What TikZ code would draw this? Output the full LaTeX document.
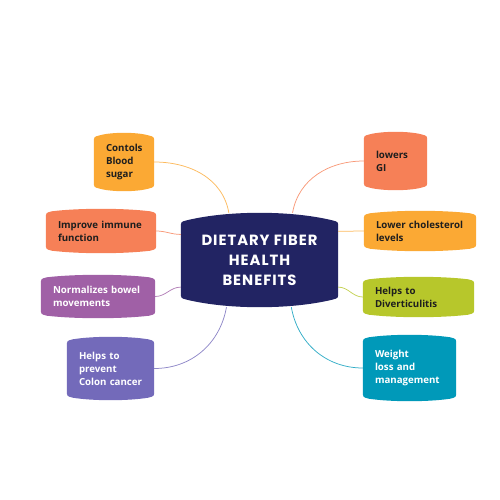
\documentclass[tikz,border=0pt]{standalone}
\usepackage{fontspec}
\setmainfont{Open Sans}
\newfontfamily\titlefont{Poppins}[LetterSpace=6.5]
\usepackage{xcolor}
\usetikzlibrary{calc}

\definecolor{hubblue}{RGB}{34,36,99}
\definecolor{sunny}{RGB}{251,169,52}
\definecolor{coral}{RGB}{246,128,87}
\definecolor{plum}{RGB}{160,96,166}
\definecolor{violet}{RGB}{115,106,186}
\definecolor{lime}{RGB}{183,199,43}
\definecolor{teal}{RGB}{0,153,185}
\definecolor{darktext}{RGB}{30,30,30}

\pgfdeclarelayer{back}
\pgfsetlayers{back,main}

% rounded box with bulged top and bottom (#3 = bulge), drawn behind a node
\newcommand{\blob}[3]{%
  \begin{pgfonlayer}{back}
  \fill[#2] let \p1=(#1.north west), \p2=(#1.south east), \n1={\x2-\x1} in
    (\x1,\y1-#3pt-6pt) -- (\x1,\y2+#3pt+6pt)
    .. controls (\x1,\y2+#3pt) .. (\x1+6pt,\y2+#3pt-1.5pt)
    .. controls ({\x1+0.3*\n1},{\y2-(#3-1.5)/3*1pt}) and ({\x2-0.3*\n1},{\y2-(#3-1.5)/3*1pt}) .. (\x2-6pt,\y2+#3pt-1.5pt)
    .. controls (\x2,\y2+#3pt) .. (\x2,\y2+#3pt+6pt)
    -- (\x2,\y1-#3pt-6pt)
    .. controls (\x2,\y1-#3pt) .. (\x2-6pt,\y1-#3pt+1.5pt)
    .. controls ({\x2-0.3*\n1},{\y1+(#3-1.5)/3*1pt}) and ({\x1+0.3*\n1},{\y1+(#3-1.5)/3*1pt}) .. (\x1+6pt,\y1-#3pt+1.5pt)
    .. controls (\x1,\y1-#3pt) .. cycle;
  \end{pgfonlayer}}

\tikzset{
  box/.style={inner xsep=12pt, inner ysep=0pt, align=left,
    font=\bfseries\fontsize{9.7}{13}\selectfont,
    execute at begin node={\hyphenpenalty=10000\exhyphenpenalty=10000}},
  hub/.style={inner sep=0pt, align=center, text=white,
    font=\titlefont\bfseries\fontsize{14.8}{20}\selectfont},
  link/.style={line width=0.75pt}
}

\begin{document}
\begin{tikzpicture}[x=1pt, y=-1pt]
\useasboundingbox (0,0) rectangle (500,500);

% Center
\node[hub, minimum width=157pt, minimum height=94pt] (hub) at (259.5,260) {DIETARY FIBER\\HEALTH\\BENEFITS};
\blob{hub}{hubblue}{9}

% Left side
\node[box, text=darktext, text width=36pt, minimum height=58pt] (sugar) at (124,162) {Contols\\Blood\\sugar};
\blob{sugar}{sunny}{4}
\node[box, text=darktext, text width=86pt, minimum height=44pt] (immune) at (101,231) {Improve~immune\\function};
\blob{immune}{coral}{4}
\node[box, text=white, text width=90pt, minimum height=43pt] (bowel) at (98,296.5) {Normalizes~bowel\\movements};
\blob{bowel}{plum}{4}
\node[box, text=white, text width=63pt, minimum height=63pt] (colon) at (110.5,368.5) {Helps~to\\prevent\\Colon~cancer};
\blob{colon}{violet}{4}

% Right side
\node[box, text=darktext, text width=39pt, minimum height=58pt] (gi) at (395.5,161) {lowers\\GI};
\blob{gi}{coral}{4}
\node[box, text=darktext, text width=88pt, minimum height=40pt] (chol) at (420,231) {Lower~cholesterol\\levels};
\blob{chol}{sunny}{4}
\node[box, text=darktext, text width=87pt, minimum height=40pt] (divert) at (418.5,297) {Helps~to\\Diverticulitis};
\blob{divert}{lime}{4}
\node[box, text=white, text width=69pt, minimum height=66pt] (weight) at (409.5,368) {Weight\\loss~and\\management};
\blob{weight}{teal}{4}

% Links
\draw[link, sunny!80] (sugar.east) to[out=0, in=100] (hub.123);
\draw[link, coral!80] (immune.east) to[out=0, in=180] (hub.162);
\draw[link, plum!80] (bowel.east) to[out=0, in=180] (hub.199);
\draw[link, violet!80] (colon.east) to[out=0, in=-100] (hub.235);
\draw[link, coral!80] (gi.west) to[out=180, in=80] (hub.55);
\draw[link, sunny!80] (chol.west) to[out=180, in=0] (hub.20);
\draw[link, lime!80] (divert.west) to[out=180, in=0] (hub.341);
\draw[link, teal!80] (weight.west) to[out=180, in=-80] (hub.304);
\end{tikzpicture}
\end{document}
